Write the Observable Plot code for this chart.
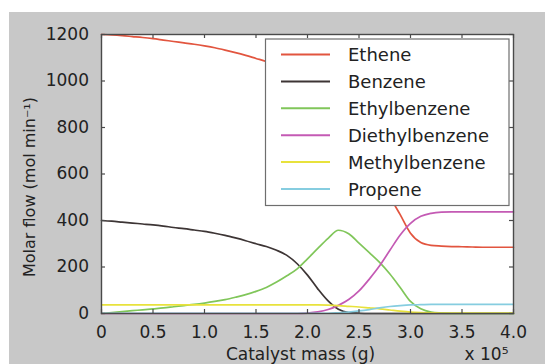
<!DOCTYPE html>
<html><head><meta charset="utf-8">
<script src="https://cdn.jsdelivr.net/npm/d3@7"></script>
<script src="https://cdn.jsdelivr.net/npm/@observablehq/plot@0.6"></script>
<style>
html,body{margin:0;padding:0;background:#fff;}
#chart svg{display:block;}
</style></head><body><div id="chart"></div>
<script>
// Catalyst mass (x 10^5 g)
const mass = [0,0.1,0.2,0.3,0.4,0.5,0.6,0.7,0.8,0.9,1.0,1.1,1.2,1.3,1.4,1.5,1.6,1.7,1.8,1.9,2.0,2.1,2.2,2.3,2.4,2.5,2.6,2.7,2.8,2.9,3.0,3.1,3.2,3.3,3.4,3.5,3.6,3.7,3.8,3.9,4.0];
// Molar flows (mol/min)
const ethene = [1200,1198,1195,1191,1187,1182,1176,1170,1164,1158,1151,1143,1133,1122,1110,1097,1084,1068,1050,1030,1005,975,940,895,840,775,700,610,505,425,345,305,293,290,288,287,286,285,285,285,285];
const benzene = [400,397,393,389,385,381,376,370,365,359,353,345,336,325,313,300,288,272,250,214,165,106,54,18,4,1,0,0,0,0,0,0,0,0,0,0,0,0,0,0,0];
const ethylbenzene = [0,4,8,12,16,20,24,29,34,39,45,52,60,70,81,95,112,135,162,192,235,280,323,358,343,303,262,220,170,112,52,20,6,2,0,0,0,0,0,0,0];
const diethylbenzene = [0,0,0,0,0,0,0,0,0,0,0,0,0,0,0,0,0,0,0,0,2,7,17,35,60,97,148,205,272,338,388,418,431,436,437,437,437,437,437,437,437];
const methylbenzene = [37,37,37,37,37,37,37,37,37,37,37,37,37,37,37,37,37,37,37,37,37,37,36,34,31,28,24,20,15,10,6,4,3,2,2,2,2,2,2,2,2];
const propene = [1,1,1,1,1,1,1,1,1,1,1,1,1,1,1,1,1,1,1,1,1,1,1,3,6,11,17,24,30,34,37,38,39,39,39,39,39,39,39,39,39];

const seriesNames = ["Ethene","Benzene","Ethylbenzene","Diethylbenzene","Methylbenzene","Propene"];
const seriesColors = ["#e2553f","#3d3535","#80c65a","#c45ab4","#e8e23c","#86cde0"];
const seriesValues = [ethene, benzene, ethylbenzene, diethylbenzene, methylbenzene, propene];

const xTicks = [0,0.5,1,1.5,2,2.5,3,3.5,4];
const xTickLabels = ["0","0.5","1.0","1.5","2.0","2.5","3.0","3.5","4.0"];
const yTicks = [0,200,400,600,800,1000,1200];
const yTickLabels = ["0","200","400","600","800","1000","1200"];

const xLabel = "Catalyst mass (g)";
const xExponent = "x 10\u2075";
const yLabel = "Molar flow (mol min\u207B\u00B9)";

const rows = seriesNames.flatMap((name, i) => mass.map((m, j) => ({series: name, mass: m, flow: seriesValues[i][j]})));

const W = 545, H = 364, mL = 101, mR = 32, mT = 34, mB = 51;
const plotW = W - mL - mR, plotH = H - mT - mB;
const font = "'DejaVu Sans', sans-serif";
const axisColor = "#4a4a4a";

const plot = Plot.plot({
  width: W, height: H,
  marginLeft: mL, marginRight: mR, marginTop: mT, marginBottom: mB,
  style: {fontFamily: font, fontSize: "17px", color: "#222"},
  x: {domain: [0, 4]},
  y: {domain: [0, 1200]},
  color: {domain: seriesNames, range: seriesColors},
  marks: [
    Plot.frame({fill: "white"}),
    Plot.line(rows, {x: "mass", y: "flow", z: "series", stroke: "series", strokeWidth: 1.7, curve: "monotone-x"}),
    // inward ticks on all four sides
    Plot.tickX(xTicks, {x: d => d, insetTop: plotH - 4, stroke: axisColor, strokeWidth: 1.2}),
    Plot.tickX(xTicks, {x: d => d, insetBottom: plotH - 4, stroke: axisColor, strokeWidth: 1.2}),
    Plot.tickY(yTicks, {y: d => d, insetRight: plotW - 4, stroke: axisColor, strokeWidth: 1.2}),
    Plot.tickY(yTicks, {y: d => d, insetLeft: plotW - 4, stroke: axisColor, strokeWidth: 1.2}),
    Plot.frame({stroke: axisColor, strokeWidth: 1.4}),
    Plot.axisX(xTicks, {anchor: "bottom", tickSize: 0, tickPadding: 12, label: null,
      tickFormat: d => xTickLabels[xTicks.indexOf(d)], fill: "#222"}),
    Plot.axisY(yTicks, {anchor: "left", tickSize: 0, tickPadding: 12.5, label: null,
      tickFormat: d => yTickLabels[yTicks.indexOf(d)], fill: "#222"}),
    Plot.text([xLabel], {frameAnchor: "bottom", text: d => d, dy: 46.5, dx: -7, lineAnchor: "bottom", textAnchor: "middle", fontSize: 17, fill: "#222"}),
    Plot.text([xExponent], {frameAnchor: "bottom-right", text: d => d, dy: 46.5, dx: -5, lineAnchor: "bottom", textAnchor: "end", fontSize: 17, fill: "#222"}),
    Plot.text([yLabel], {frameAnchor: "left", text: d => d, rotate: -90, dx: -72, dy: 13, textAnchor: "middle", lineAnchor: "middle", fontSize: 16, fill: "#222"})
  ]
});

plot.style.background = "linear-gradient(#fff,#fff) 0 0/100% 12px no-repeat, linear-gradient(#fff,#fff) 0 0/9px 100% no-repeat, #c8c8c8";

// legend box inside the plot area
const svg = d3.select(plot);
const lg = svg.append("g").attr("font-family", font).attr("font-size", 18).attr("text-anchor", "start");
const box = {x: 265.5, y: 39, w: 243.5, h: 166.5};
lg.append("rect").attr("x", box.x).attr("y", box.y).attr("width", box.w).attr("height", box.h)
  .attr("fill", "white").attr("stroke", "#6e6e6e").attr("stroke-width", 1.2);
const rowY0 = 54.5, rowStep = 26.9;
seriesNames.forEach((name, i) => {
  const y = rowY0 + i * rowStep;
  lg.append("line").attr("x1", 281).attr("x2", 330).attr("y1", y).attr("y2", y)
    .attr("stroke", seriesColors[i]).attr("stroke-width", 2);
  lg.append("text").attr("x", 348).attr("y", y + 6.5).attr("fill", "#222")
    .attr("text-anchor", "start").text(name);
});

document.getElementById("chart").appendChild(plot);
</script>
</body></html>
